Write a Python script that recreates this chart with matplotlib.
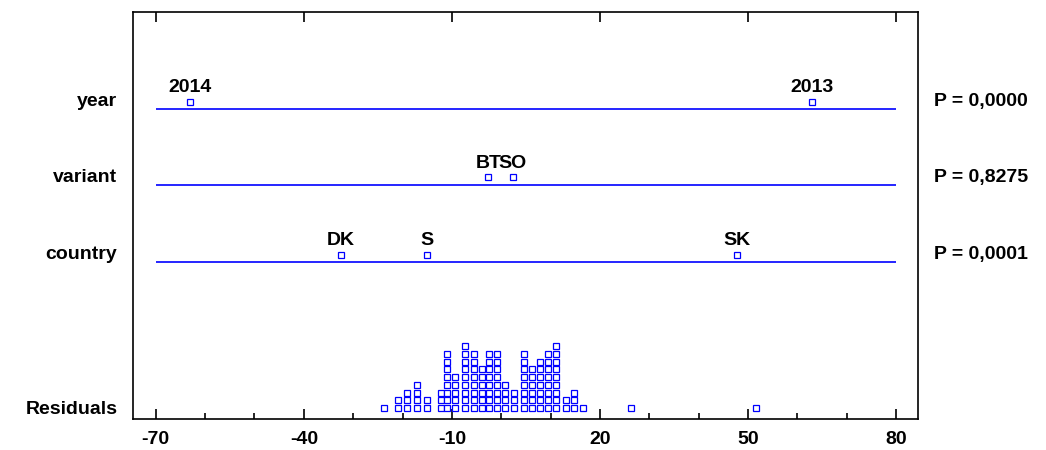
import numpy as np
import matplotlib.pyplot as plt

plt.rcParams['font.family'] = ['Liberation Sans', 'DejaVu Sans']
plt.rcParams['font.weight'] = 'bold'

# effect rows: level labels and their positions on the x scale
factors = ['year', 'variant', 'country']
levels = [['2014', '2013'], ['BT', 'SO'], ['DK', 'S', 'SK']]
effects = [[-63.0, 63.0], [-2.6, 2.3], [-32.5, -15.1, 47.8]]
p_values = ['P = 0,0000', 'P = 0,8275', 'P = 0,0001']

# residual dot plot: column centres and number of stacked dots
resid_x = [-23.7, -20.9, -19.1, -17.1, -15.0, -12.3, -11.0, -9.3, -7.3, -5.5,
           -3.9, -2.4, -0.8, 0.7, 2.5, 4.6, 6.2, 7.9, 9.5, 11.1,
           13.1, 14.8, 16.5, 26.2, 51.7]
resid_n = [1, 2, 3, 4, 2, 3, 8, 5, 9, 8,
           6, 8, 8, 4, 3, 8, 6, 7, 8, 9,
           2, 3, 1, 1, 1]

ticks_major = [-70, -40, -10, 20, 50, 80]

blue = '#0000ff'
row_y = [310, 234.3, 156.7]   # vertical position of each factor line
mark_off = 7.5                # markers sit just above the line
res_base, res_step = 11, 7.7

fig = plt.figure(figsize=(10.46, 4.5), dpi=100)
ax = fig.add_axes([0.1272, 0.0689, 0.7505, 0.9044])
ax.set_xlim(-74.6, 84.46)
ax.set_ylim(0, 407)

for y, name, levs, vals, p in zip(row_y, factors, levels, effects, p_values):
    ax.hlines(y, -70, 80, color=blue, lw=1.2)
    ym = y + mark_off
    ax.plot(vals, [ym] * len(vals), 's', ms=4, mfc='white', mec=blue, mew=0.9)
    for lab, v in zip(levs, vals):
        ax.annotate(lab, (v, ym), xytext=(0, 4), textcoords='offset points',
                    ha='center', va='bottom', fontsize=14, fontweight='bold')
    ax.text(-0.02, ym, name, transform=ax.get_yaxis_transform(),
            ha='right', va='center', fontsize=14, fontweight='bold')
    ax.text(1.02, ym, p, transform=ax.get_yaxis_transform(),
            ha='left', va='center', fontsize=14, fontweight='bold')

# stacked residual dots
xs, ys = [], []
for v, n in zip(resid_x, resid_n):
    for k in range(n):
        xs.append(v)
        ys.append(res_base + k * res_step)
ax.plot(xs, ys, 's', ms=4, mfc='white', mec=blue, mew=0.9)
ax.text(-0.02, res_base - 2, 'Residuals', transform=ax.get_yaxis_transform(),
        ha='right', va='center', fontsize=14, fontweight='bold')

ax.set_xticks(ticks_major)
ax.set_xticks(np.arange(-70, 81, 10), minor=True)
ax.set_xticklabels([str(t) for t in ticks_major], fontsize=14, fontweight='bold')
ax.tick_params(axis='x', which='major', direction='in', length=7, width=1.2,
               top=True, pad=9)
ax.tick_params(axis='x', which='minor', direction='in', length=4, width=1.2)
ax.set_yticks([])
for s in ax.spines.values():
    s.set_linewidth(1.2)

fig.savefig('out.png', dpi=100)
